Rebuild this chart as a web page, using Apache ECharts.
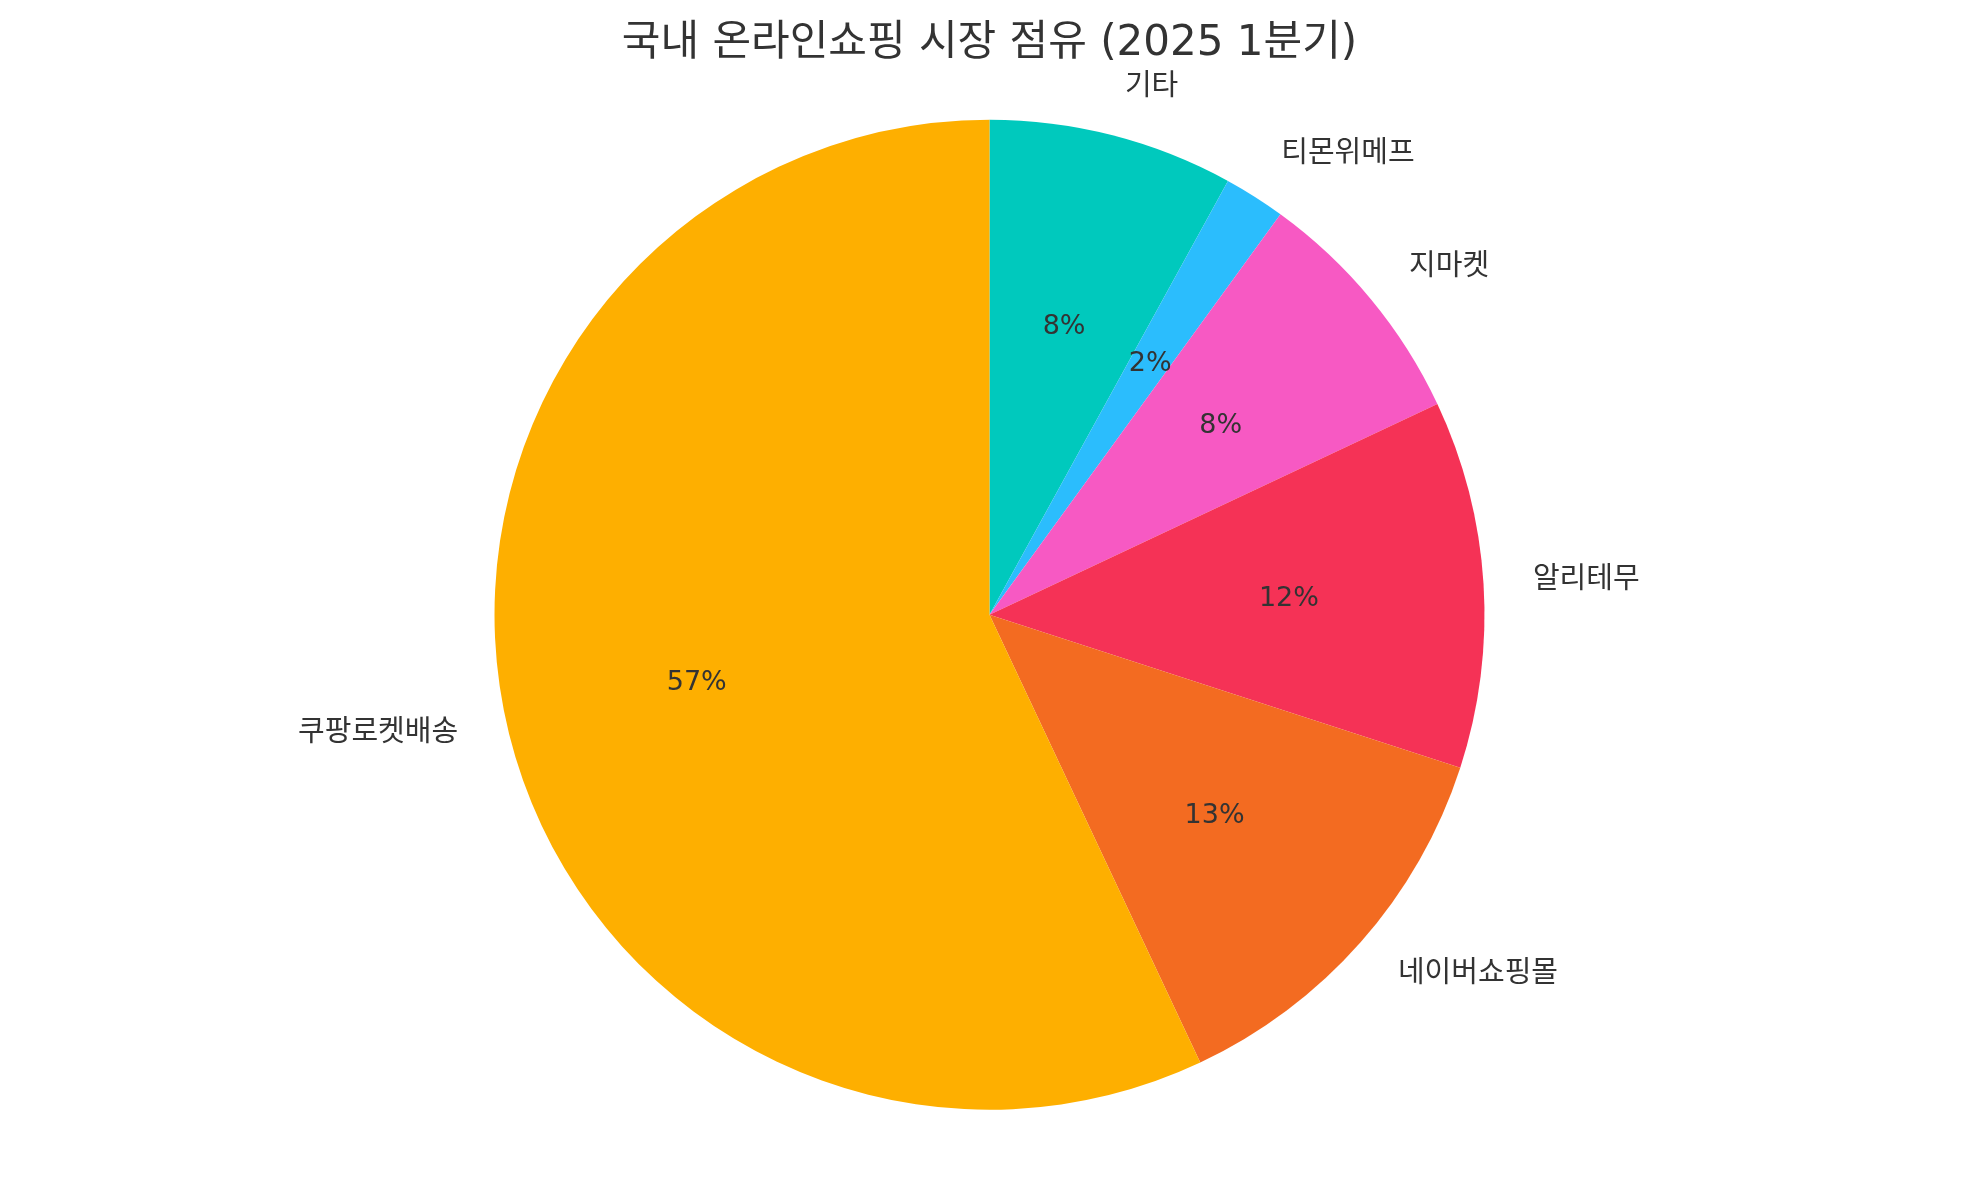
<!DOCTYPE html>
<html>
<head>
<meta charset="utf-8">
<script src="https://cdn.jsdelivr.net/npm/echarts@6/dist/echarts.min.js"></script>
<style>
html,body{margin:0;padding:0;background:#fff;}
#chart{width:1979px;height:1180px;}
</style>
</head>
<body>
<div id="chart"></div>
<script>
// NOTE: In the reference image every Hangul character was drawn as an empty
// "missing glyph" box, so the original Korean wording cannot be read.
// The Korean title and category names below are PLACEHOLDER GUESSES that only
// match the number of characters per word; replace them with the real text.
// The numbers (2025, 1, and the slice percentages) were read from the picture.
const titleText = '국내 온라인쇼핑 시장 점유 (2025 1분기)';
const categories = ['기타', '티몬위메프', '지마켓', '알리테무', '네이버쇼핑몰', '쿠팡로켓배송'];
const values = [8, 2, 8, 12, 13, 57];
const colors = ['#00C9BD', '#2BBDFD', '#F759C3', '#F53256', '#F36B21', '#FEAF00'];

const FONT = '"DejaVu Sans", "Noto Sans CJK KR", sans-serif';
const cx = 989.5, cy = 614.7, R = 495;

const mainData = categories.map((c, i) => ({ name: c, value: values[i], itemStyle: { color: colors[i] } }));
const pctData = categories.map((c, i) => ({ name: c, value: values[i] }));

const chart = echarts.init(document.getElementById('chart'), null, { renderer: 'canvas' });
chart.setOption({
  backgroundColor: '#ffffff',
  animation: false,
  title: {
    text: titleText,
    left: 'center',
    top: 14,
    textStyle: { fontFamily: FONT, fontSize: 42, fontWeight: 'normal', color: '#333333', lineHeight: 50 }
  },
  series: [
    {
      type: 'pie',
      center: [cx, cy],
      radius: [0, R],
      startAngle: 90,
      clockwise: true,
      avoidLabelOverlap: false,
      silent: true,
      itemStyle: { borderWidth: 0 },
      label: {
        show: true,
        position: 'outside',
        formatter: '{b}',
        fontFamily: FONT,
        fontSize: 29,
        color: '#333333',
        distanceToLabelLine: 0
      },
      labelLine: { show: false, length: R * 0.1, length2: 0 },
      data: mainData
    },
    {
      type: 'pie',
      center: [cx, cy],
      radius: [0, R * 1.2],
      startAngle: 90,
      clockwise: true,
      avoidLabelOverlap: false,
      silent: true,
      itemStyle: { color: 'rgba(0,0,0,0)', borderWidth: 0 },
      label: {
        show: true,
        position: 'inside',
        formatter: p => Math.round(p.value) + '%',
        fontFamily: FONT,
        fontSize: 27,
        color: '#333333',
        offset: [0, 3]
      },
      labelLine: { show: false },
      data: pctData
    }
  ]
});
</script>
</body>
</html>
